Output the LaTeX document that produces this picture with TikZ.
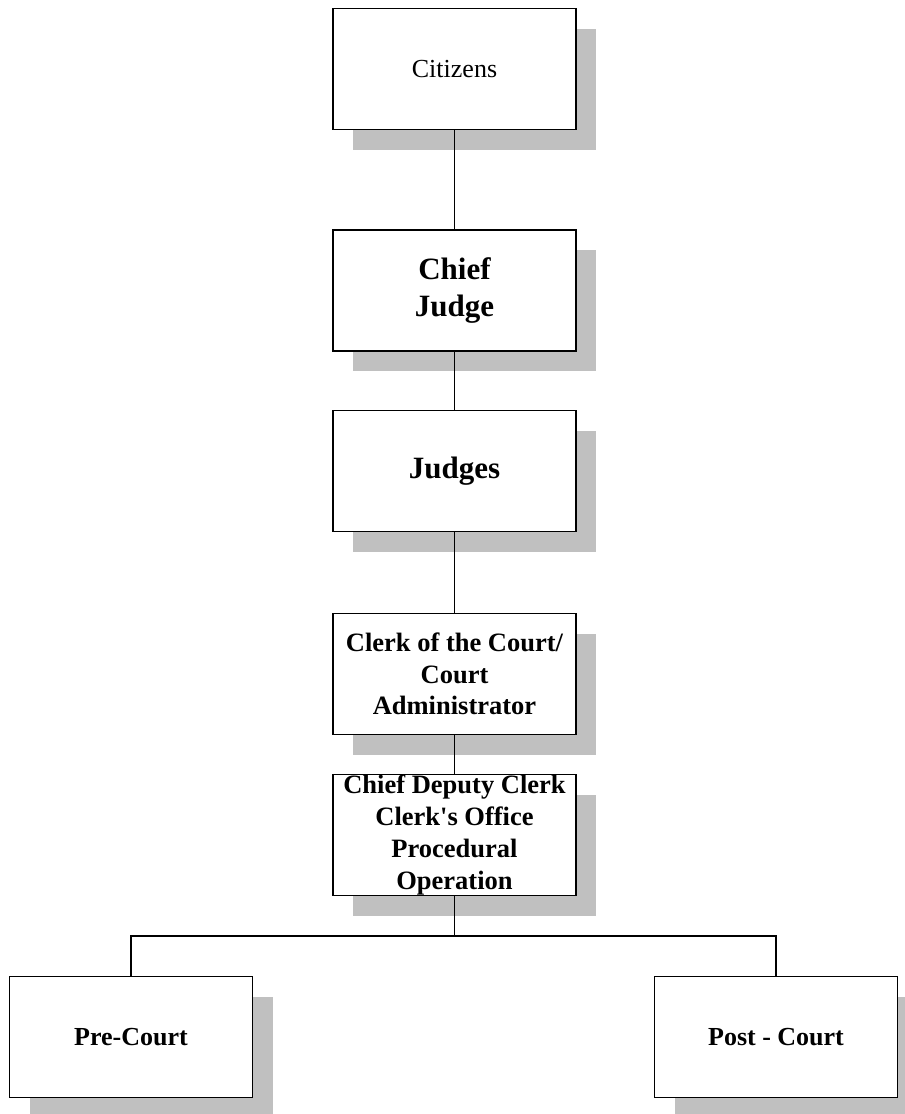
\documentclass[tikz,border=0pt]{standalone}
\usepackage{fontspec}
\setmainfont{Liberation Serif}[Ligatures=TeXOff]
\usetikzlibrary{positioning, shadows}

\definecolor{shadowgray}{RGB}{192,192,192}

\tikzset{
  orgbox/.style={draw, line width=1.3pt, fill=white, minimum width=243pt, minimum height=121pt,
    inner sep=0pt, align=center,
    drop shadow={shadow xshift=20pt, shadow yshift=-20pt, fill=shadowgray, opacity=1}},
  link/.style={line width=1.3pt},
  thinlink/.style={line width=0.7pt}
}

\begin{document}
\begin{tikzpicture}[x=1pt,y=-1pt]
\def\xMid{454.5}
\def\xPre{131}
\def\xPost{776}
\def\yBus{936}
\useasboundingbox (0,0) rectangle (905,1114);

\node[orgbox, font=\fontsize{26}{31}\selectfont] (citizens) at (\xMid,69) {Citizens};
\node[orgbox, font=\fontsize{31}{37}\selectfont\bfseries] (chief) at (\xMid,290.5) {Chief\\Judge};
\node[orgbox, font=\fontsize{31}{37}\selectfont\bfseries] (judges) at (\xMid,471) {Judges};
\node[orgbox, font=\fontsize{26.5}{31.7}\selectfont\bfseries] (clerk) at (\xMid,674) {Clerk of the Court/\\Court\\Administrator};
\node[orgbox, font=\fontsize{26.5}{31.7}\selectfont\bfseries] (deputy) at (\xMid,835) {Chief Deputy Clerk\\Clerk's Office\\Procedural\\Operation};
\node[orgbox, font=\fontsize{26}{31}\selectfont\bfseries] (pre) at (\xPre,1037) {Pre-Court};
\node[orgbox, font=\fontsize{26}{31}\selectfont\bfseries] (post) at (\xPost,1037) {Post - Court};

\coordinate (bus) at (\xMid,\yBus);

\draw[thinlink] (citizens.south) -- (chief.north);
\draw[link] (chief.south) -- (judges.north);
\draw[link] (judges.south) -- (clerk.north);
\draw[link] (clerk.south) -- (deputy.north);
\draw[link] (deputy.south) -- (bus);
\draw[link] (pre.north) |- (bus) -| (post.north);

\end{tikzpicture}
\end{document}
